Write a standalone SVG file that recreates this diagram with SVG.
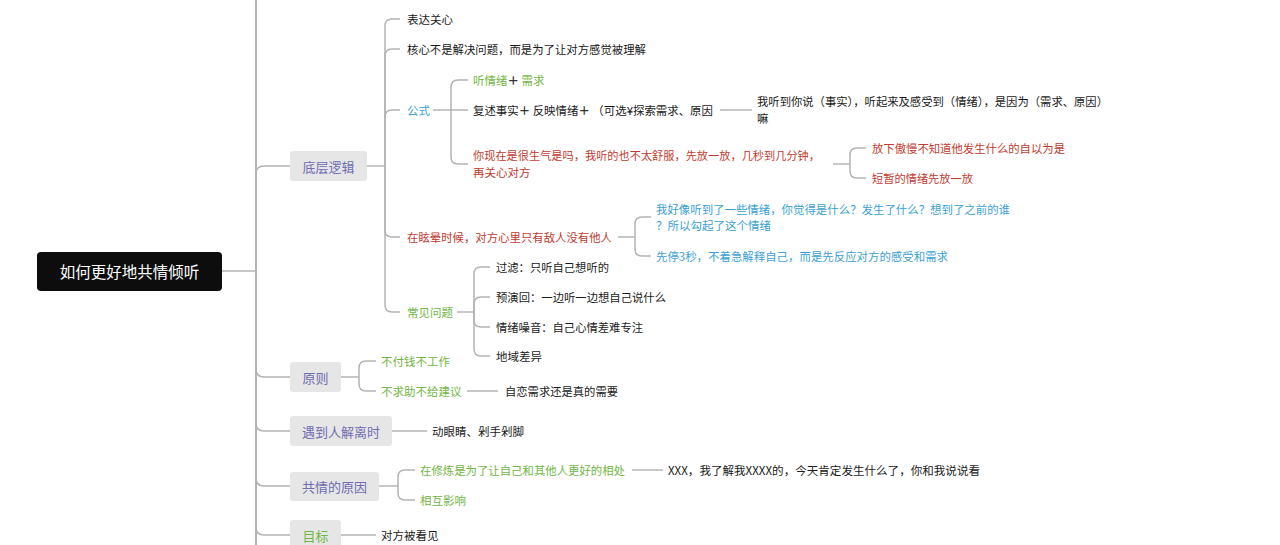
<svg xmlns="http://www.w3.org/2000/svg" width="1280" height="545" viewBox="0 0 1280 545">
<style>
text{font-family:"Noto Sans CJK SC","Noto Sans",sans-serif;dominant-baseline:central}
.c{fill:none;stroke:#b4b4b4;stroke-width:1.5}
.t{stroke-width:2}
.k{font-size:11.5px;fill:#1a1a1a}
.r{font-size:11.5px;fill:#bf3b2f}
.g{font-size:11.5px;fill:#72b644}
.b{font-size:11.5px;fill:#3b9fd3}
.bx{fill:#e6e6e6}
.bt{font-size:13px;fill:#6f6cb2;text-anchor:middle}
.pl{font-weight:bold;fill:#333}
</style>
<rect width="1280" height="545" fill="#ffffff"/>
<g id="connectors">
<path class="c t" d="M256,0V545"/>
<path class="c" d="M222,271H256"/>
<path class="c" d="M256,174Q256,166 264,166H290"/>
<path class="c" d="M256,369Q256,377 264,377H290"/>
<path class="c" d="M256,423Q256,431 264,431H290"/>
<path class="c" d="M256,478Q256,486 264,486H290"/>
<path class="c" d="M256,527Q256,535 264,535H290"/>
<path class="c" d="M367,166H385"/>
<path class="c" d="M385,166V26Q385,19 392,19H400"/>
<path class="c" d="M385,166V56Q385,49 392,49H400"/>
<path class="c" d="M385,166V117Q385,110 392,110H400"/>
<path class="c" d="M385,166V230Q385,237 392,237H400"/>
<path class="c" d="M385,166V305Q385,312 392,312H400"/>
<path class="c" d="M433,110H468"/>
<path class="c" d="M451,110V87Q451,80 458,80H468"/>
<path class="c" d="M451,110V157Q451,164 458,164H468"/>
<path class="c" d="M720,110H752"/>
<path class="c" d="M833,164H850"/>
<path class="c" d="M850,164V155Q850,148 857,148H866"/>
<path class="c" d="M850,164V171Q850,178 857,178H866"/>
<path class="c" d="M618,237H635"/>
<path class="c" d="M635,237V224Q635,217 642,217H651"/>
<path class="c" d="M635,237V249Q635,256 642,256H651"/>
<path class="c" d="M457,312H474"/>
<path class="c" d="M474,312V274Q474,267 481,267H490"/>
<path class="c" d="M474,312V304Q474,297 481,297H490"/>
<path class="c" d="M474,312V320Q474,327 481,327H490"/>
<path class="c" d="M474,312V349Q474,356 481,356H490"/>
<path class="c" d="M341,377H359"/>
<path class="c" d="M359,377V368Q359,361 366,361H376"/>
<path class="c" d="M359,377V384Q359,391 366,391H376"/>
<path class="c" d="M467,391H498"/>
<path class="c" d="M392,431H427"/>
<path class="c" d="M379,486H398"/>
<path class="c" d="M398,486V477Q398,470 405,470H415"/>
<path class="c" d="M398,486V493Q398,500 405,500H415"/>
<path class="c" d="M632,470H663"/>
<path class="c" d="M341,535H376"/>
</g>
<g id="root">
<rect x="37" y="252" width="185" height="39" rx="4" fill="#0d0d0d"/>
<text x="129.5" y="271" font-size="15.5" fill="#ffffff" text-anchor="middle">如何更好地共情倾听</text>
</g>
<g id="n-diceng">
<rect class="bx" x="290" y="151" width="77" height="30" rx="3"/>
<text class="bt" x="328.5" y="166">底层逻辑</text>
</g>
<g id="n-biaoda"><text class="k" x="407" y="19">表达关心</text></g>
<g id="n-hexin"><text class="k" x="407" y="49" textLength="239" lengthAdjust="spacingAndGlyphs">核心不是解决问题，而是为了让对方感觉被理解</text></g>
<g id="n-gongshi"><text class="b" x="407" y="110">公式</text></g>
<g id="n-ting"><text class="g" x="473" y="80">听情绪<tspan class="pl">＋</tspan> 需求</text></g>
<g id="n-fushu"><text class="k" x="473" y="110" textLength="240" lengthAdjust="spacingAndGlyphs">复述事实<tspan class="pl">＋</tspan> 反映情绪<tspan class="pl">＋</tspan> （可选¥探索需求、原因</text></g>
<g id="n-wotingdao"><text class="k" x="757" y="101" textLength="351" lengthAdjust="spacingAndGlyphs">我听到你说（事实），听起来及感受到（情绪），是因为（需求、原因）</text><text class="k" x="757" y="118">嘛</text></g>
<g id="n-nixianzai"><text class="r" x="473" y="155" textLength="347" lengthAdjust="spacingAndGlyphs">你现在是很生气是吗，我听的也不太舒服，先放一放，几秒到几分钟，</text><text class="r" x="473" y="172">再关心对方</text></g>
<g id="n-fangxia"><text class="r" x="872" y="148" textLength="193" lengthAdjust="spacingAndGlyphs">放下傲慢不知道他发生什么的自以为是</text></g>
<g id="n-duanzan"><text class="r" x="872" y="178" textLength="101" lengthAdjust="spacingAndGlyphs">短暂的情绪先放一放</text></g>
<g id="n-xuanyun"><text class="r" x="407" y="237" textLength="205" lengthAdjust="spacingAndGlyphs">在眩晕时候，对方心里只有敌人没有他人</text></g>
<g id="n-haoxiang"><text class="b" x="656" y="209" textLength="354" lengthAdjust="spacingAndGlyphs">我好像听到了一些情绪，你觉得是什么？发生了什么？想到了之前的谁</text><text class="b" x="656" y="225">？所以勾起了这个情绪</text></g>
<g id="n-xianting"><text class="b" x="656" y="256" textLength="292" lengthAdjust="spacingAndGlyphs">先停3秒，不着急解释自己，而是先反应对方的感受和需求</text></g>
<g id="n-changjian"><text class="g" x="407" y="312">常见问题</text></g>
<g id="n-guolv"><text class="k" x="496" y="267" textLength="113" lengthAdjust="spacingAndGlyphs">过滤：只听自己想听的</text></g>
<g id="n-yuyan"><text class="k" x="496" y="297" textLength="170" lengthAdjust="spacingAndGlyphs">预演回：一边听一边想自己说什么</text></g>
<g id="n-zaoyin"><text class="k" x="496" y="327" textLength="147" lengthAdjust="spacingAndGlyphs">情绪噪音：自己心情差难专注</text></g>
<g id="n-diyu"><text class="k" x="496" y="356">地域差异</text></g>
<g id="n-yuanze">
<rect class="bx" x="290" y="362" width="51" height="30" rx="3"/>
<text class="bt" x="315.5" y="377">原则</text>
</g>
<g id="n-bufu"><text class="g" x="381" y="361">不付钱不工作</text></g>
<g id="n-buqiu"><text class="g" x="381" y="391">不求助不给建议</text></g>
<g id="n-zilian"><text class="k" x="505" y="391" textLength="113" lengthAdjust="spacingAndGlyphs">自恋需求还是真的需要</text></g>
<g id="n-yudao">
<rect class="bx" x="290" y="416" width="102" height="30" rx="3"/>
<text class="bt" x="341" y="431">遇到人解离时</text>
</g>
<g id="n-dong"><text class="k" x="432" y="431">动眼睛、剁手剁脚</text></g>
<g id="n-yuanyin">
<rect class="bx" x="290" y="472" width="89" height="29" rx="3"/>
<text class="bt" x="334.5" y="486">共情的原因</text>
</g>
<g id="n-xiulian"><text class="g" x="420" y="470" textLength="205" lengthAdjust="spacingAndGlyphs">在修炼是为了让自己和其他人更好的相处</text></g>
<g id="n-xxx"><text class="k" x="668" y="470" textLength="312" lengthAdjust="spacingAndGlyphs">XXX，我了解我XXXX的，今天肯定发生什么了，你和我说说看</text></g>
<g id="n-xianghu"><text class="g" x="420" y="500">相互影响</text></g>
<g id="n-mubiao">
<rect class="bx" x="290" y="520" width="51" height="32" rx="3"/>
<text class="bt" x="315.5" y="535" style="fill:#72b644">目标</text>
</g>
<g id="n-kanjian"><text class="k" x="381" y="535">对方被看见</text></g>
</svg>
